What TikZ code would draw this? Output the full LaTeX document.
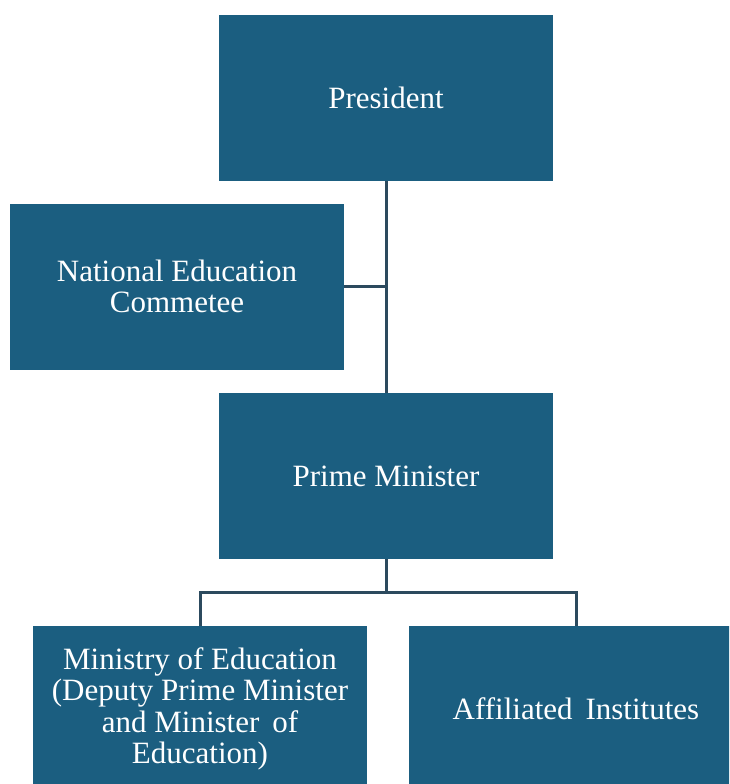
\documentclass[tikz,border=0pt]{standalone}
\usepackage{fontspec}
\setmainfont{Liberation Serif}
\usepackage{tikz}
\usetikzlibrary{positioning}

\definecolor{boxblue}{RGB}{27,94,128}
\definecolor{linkgray}{RGB}{44,74,94}

\begin{document}
\begin{tikzpicture}[x=1pt,y=-1pt]
\useasboundingbox (0,0) rectangle (729,784);
\clip (0,0) rectangle (729,784);

\begin{scope}[every node/.style={rectangle,fill=boxblue,text=white,
        minimum width=334pt,minimum height=166pt,inner sep=0pt,align=center,
        font=\fontsize{31}{31.5}\selectfont}]
    \node (pres) at (386,98) {President};
    \node (nec) at (177,286.5) {National Education\\Commetee};
    \node (pm) at (386,476) {Prime Minister};
    \node (moe) at (200,709) {Ministry of Education\\(Deputy Prime Minister\\and Minister\ \,of\\Education)};
    \node (aff) at (576,709) {Affiliated\ \,Institutes};
\end{scope}

\begin{scope}[every path/.style={draw=linkgray,line width=3pt}]
    \path (pres.south) -- (pm.north);
    \path (nec.east) -- (nec.east -| pres.south);
    % fork point below the prime minister
    \coordinate (fork) at ([yshift=-33pt]pm.south);
    \foreach \v in {moe, aff}
        \path (pm.south) -- (fork) -| (\v.north);
\end{scope}
\end{tikzpicture}
\end{document}
